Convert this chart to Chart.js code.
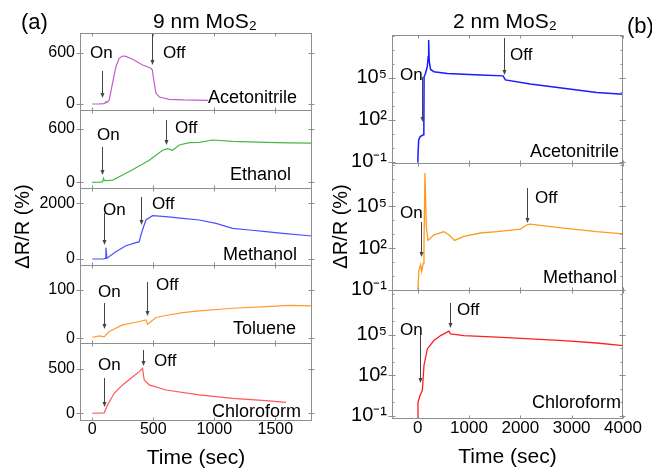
<!DOCTYPE html>
<html>
<head>
<meta charset="utf-8">
<script src="https://cdn.jsdelivr.net/npm/chart.js@4.4.1/dist/chart.umd.min.js"></script>
<style>
html, body { margin: 0; padding: 0; background: #fff; }
#wrap { position: relative; width: 652px; height: 474px; overflow: hidden; }
canvas { position: absolute; top: 0; }
#left { left: 0; }
#right { left: 322px; }
</style>
</head>
<body>
<div id="wrap">
  <canvas id="left" width="330" height="474"></canvas>
  <canvas id="right" width="330" height="474"></canvas>
</div>
<script>
// ---- data: 9 nm MoS2 (left column), time in sec, dR/R in %
const ticksXL = [0, 500, 1000, 1500];
const tAcnL = [0, 60, 95, 105, 112, 125, 140, 166, 194, 221, 248, 276, 331, 413, 481, 492, 500, 522, 550, 630, 750, 950];
const vAcnL = [0, 2, 5, 12, 27, 20, 50, 242, 436, 534, 561, 556, 523, 456, 418, 400, 319, 125, 82, 55, 47, 42];
const tEthL = [0, 60, 85, 92, 100, 139, 168, 221, 330, 467, 576, 617, 658, 713, 795, 877, 985, 1150, 1423, 1615, 1800];
const vEthL = [0, 2, 5, 45, 20, 22, 25, 63, 142, 248, 360, 379, 360, 420, 446, 450, 476, 461, 450, 443, 440];
const tMeoL = [0, 90, 105, 112, 120, 194, 276, 385, 399, 420, 440, 494, 604, 740, 877, 1014, 1150, 1287, 1423, 1560, 1800];
const vMeoL = [0, 0, 20, 407, 30, 262, 478, 622, 862, 1150, 1400, 1556, 1520, 1461, 1400, 1281, 1102, 1041, 982, 921, 826];
const tTolL = [0, 60, 98, 139, 249, 358, 440, 454, 522, 604, 740, 877, 1150, 1423, 1615, 1800];
const vTolL = [2, 5, 3, 14, 27.5, 33, 38, 29, 43, 47, 53, 56.5, 62, 65.5, 68, 67];
const tChlL = [0, 98, 126, 180, 249, 317, 385, 412, 426, 467, 604, 877, 1150, 1423, 1587];
const vChlL = [0, 5, 94, 226, 320, 395, 470, 508, 376, 320, 263, 207, 169, 142, 124];
const ticksAcnL = [0, 600];
const ticksEthL = [0, 600];
const ticksMeoL = [0, 2000];
const ticksTolL = [0, 100];
const ticksChlL = [0, 500];

// ---- data: 2 nm MoS2 (right column), log scale
const ticksXR = [0, 1000, 2000, 3000, 4000];
const ticksLogR = [0.1, 100, 1e5];
const labelsLogR = ['10⁻¹', '10²', '10⁵'];
const tAcnR = [0, 5, 20, 50, 110, 120, 125, 150, 188, 205, 214, 225, 252, 317, 576, 1223, 1663, 1709, 2194, 2841, 3489, 4006];
const vAcnR = [0.09, 0.24, 3.7, 6.5, 8.5, 10, 1.2e5, 2e5, 6.5e5, 3.2e6, 5.1e7, 1.6e6, 4e5, 2.8e5, 2.1e5, 1.6e5, 1.4e5, 7.2e4, 3.7e4, 1.8e4, 8.9e3, 6.8e3];
const tMeoR = [0, 6, 26, 58, 78, 110, 123, 142, 168, 201, 317, 511, 608, 718, 900, 1223, 1547, 2000, 2130, 2194, 2841, 3489, 4006];
const vMeoR = [0.09, 0.13, 2.7, 6.2, 2.0, 8.1, 130, 2.5e7, 3.5e3, 350, 890, 1.5e3, 890, 350, 680, 1.2e3, 1.5e3, 2.3e3, 4.7e3, 5.2e3, 2.7e3, 1.5e3, 1.05e3];
const tChlR = [0, 6, 45, 91, 123, 188, 317, 447, 608, 640, 900, 1547, 2194, 2841, 3489, 4006];
const vChlR = [0.07, 1.0, 3.2, 7.4, 540, 9.1e3, 3.8e4, 8.9e4, 1.9e5, 1.2e5, 8.9e4, 6.8e4, 5e4, 3.8e4, 2.5e4, 1.6e4];

const FONT = '"Liberation Sans", Arial, sans-serif';
Chart.defaults.font.family = FONT;
Chart.defaults.color = '#000';

function series(ts, vs, axis, color, width) {
  return {
    data: ts.map((t, i) => ({ x: t, y: vs[i] })),
    yAxisID: axis,
    borderColor: color,
    borderWidth: width,
    pointRadius: 0,
    tension: 0,
    fill: false
  };
}

function yLin(min, max, tickVals, extra) {
  return Object.assign({
    type: 'linear', position: 'left', stack: 'col', stackWeight: 1,
    min: min, max: max,
    grid: { display: false, drawTicks: false },
    border: { display: false },
    ticks: { font: { size: 16 }, color: '#000', padding: 5, autoSkip: false,
      callback: (v) => String(v) },
    afterBuildTicks: (s) => { s.ticks = tickVals.map(v => ({ value: v })); },
    afterFit: (s) => { s.width = 80; }
  }, extra || {});
}

function yLog(min, max, extra) {
  return Object.assign({
    type: 'logarithmic', position: 'left', stack: 'col', stackWeight: 1,
    min: min, max: max,
    grid: { display: false, drawTicks: false },
    border: { display: false },
    ticks: { font: { size: 20 }, color: '#000', padding: 5, autoSkip: false,
      callback: (v, i) => labelsLogR[i] },
    afterBuildTicks: (s) => { s.ticks = ticksLogR.map(v => ({ value: v })); },
    afterFit: (s) => { s.width = 70; }
  }, extra || {});
}

function xAxis(min, max, tickVals, h, titlePad, size) {
  return {
    type: 'linear', position: 'bottom', min: min, max: max,
    grid: { display: false, drawTicks: false },
    border: { display: false },
    ticks: { font: { size: size }, color: '#000', padding: 0, maxRotation: 0, autoSkip: false,
      callback: (v) => String(v) },
    afterBuildTicks: (s) => { s.ticks = tickVals.map(v => ({ value: v })); },
    afterFit: (s) => { s.height = h; },
    title: { display: true, text: 'Time (sec)', font: { size: 21 }, color: '#000', padding: { top: 0, bottom: titlePad } }
  };
}

// frames, tick marks, arrows and labels
const framePlugin = {
  id: 'frames',
  afterDatasetsDraw(chart, args, opts) {
    const ctx = chart.ctx, ca = chart.chartArea, xs = chart.scales.x;
    const l = Math.round(ca.left) + 0.5, r = Math.round(ca.right) - 0.5;
    ctx.save();
    ctx.strokeStyle = '#8f8f8f';
    ctx.lineWidth = 1;
    Object.values(chart.scales).forEach(s => {
      if (s.axis !== 'y') return;
      const top = Math.round(s.top) + 0.5, bot = Math.round(s.bottom) + 0.5;
      ctx.strokeRect(l, top, r - l, bot - top);
      ctx.beginPath();
      opts.xMarks.forEach(v => {
        const px = Math.round(xs.getPixelForValue(v)) + 0.5;
        ctx.moveTo(px, bot); ctx.lineTo(px, bot - 3);
        ctx.moveTo(px, top); ctx.lineTo(px, top + 3);
      });
      s.ticks.forEach(t => {
        const py = Math.round(s.getPixelForValue(t.value)) + 0.5;
        ctx.moveTo(l - 4, py); ctx.lineTo(l + 3, py);
        ctx.moveTo(r - 3, py); ctx.lineTo(r + 3, py);
      });
      if (s.type === 'logarithmic') {
        for (let e = Math.ceil(Math.log10(s.min)); e <= Math.floor(Math.log10(s.max)); e++) {
          const py = Math.round(s.getPixelForValue(Math.pow(10, e))) + 0.5;
          ctx.moveTo(l, py); ctx.lineTo(l + 2, py);
          ctx.moveTo(r - 2, py); ctx.lineTo(r, py);
        }
      }
      ctx.stroke();
    });

    ctx.strokeStyle = '#444';
    ctx.fillStyle = '#444';
    opts.arrows.forEach(a => {
      const px = Math.round(xs.getPixelForValue(a.t)) + 0.5;
      ctx.beginPath();
      ctx.moveTo(px, a.y1); ctx.lineTo(px, a.y2 - 3);
      ctx.stroke();
      ctx.beginPath();
      ctx.moveTo(px - 2, a.y2 - 5); ctx.lineTo(px + 2, a.y2 - 5); ctx.lineTo(px, a.y2);
      ctx.closePath();
      ctx.fill();
    });

    ctx.fillStyle = '#000';
    ctx.textBaseline = 'middle';
    opts.notes.forEach(n => {
      ctx.font = (n.size || 17) + 'px ' + FONT;
      ctx.textAlign = n.align || 'left';
      ctx.fillText(n.text, n.x, n.y);
    });
    ctx.restore();
  }
};

const notesL = [
  { text: '(a)', x: 21, y: 23, size: 22 },
  { text: '9 nm MoS₂', x: 205, y: 22, size: 21, align: 'center' },
  { text: 'On', x: 90, y: 53 }, { text: 'Off', x: 163, y: 53 },
  { text: 'Acetonitrile', x: 208, y: 98, size: 18 },
  { text: 'On', x: 97, y: 135 }, { text: 'Off', x: 175, y: 128 },
  { text: 'Ethanol', x: 230, y: 175, size: 18 },
  { text: 'On', x: 103, y: 210 }, { text: 'Off', x: 152, y: 204 },
  { text: 'Methanol', x: 223, y: 255, size: 18 },
  { text: 'On', x: 98, y: 292 }, { text: 'Off', x: 156, y: 285 },
  { text: 'Toluene', x: 233, y: 329, size: 18 },
  { text: 'On', x: 98, y: 365 }, { text: 'Off', x: 154, y: 361 },
  { text: 'Chloroform', x: 212, y: 412, size: 18 }
];
const arrowsL = [
  { t: 84, y1: 71, y2: 98 }, { t: 490, y1: 34, y2: 65 },
  { t: 82, y1: 147, y2: 175 }, { t: 604, y1: 120, y2: 145 },
  { t: 98, y1: 213, y2: 245 }, { t: 399, y1: 197, y2: 225 },
  { t: 98, y1: 303, y2: 329 }, { t: 448, y1: 282, y2: 316 },
  { t: 98, y1: 378, y2: 407 }, { t: 420, y1: 350, y2: 366 }
];
const notesR = [
  { text: '(b)', x: 305, y: 27, size: 22 },
  { text: '2 nm MoS₂', x: 183, y: 22, size: 21, align: 'center' },
  { text: 'On', x: 78, y: 75 }, { text: 'Off', x: 188, y: 55 },
  { text: 'Acetonitrile', x: 208, y: 152, size: 18 },
  { text: 'On', x: 78, y: 213 }, { text: 'Off', x: 213, y: 198 },
  { text: 'Methanol', x: 221, y: 278, size: 18 },
  { text: 'On', x: 78, y: 330 }, { text: 'Off', x: 135, y: 310 },
  { text: 'Chloroform', x: 210, y: 403, size: 18 }
];
const arrowsR = [
  { t: 78, y1: 77, y2: 122 }, { t: 1676, y1: 38, y2: 75 },
  { t: 58, y1: 222, y2: 257 }, { t: 2130, y1: 188, y2: 223 },
  { t: 45, y1: 335, y2: 383 }, { t: 621, y1: 303, y2: 328 }
];

const yTitleL = { display: true, text: 'ΔR/R (%)', font: { size: 20 }, color: '#000', padding: { top: 11, bottom: 0 } };
const yTitleR = { display: true, text: 'ΔR/R (%)', font: { size: 20 }, color: '#000', padding: { top: 7, bottom: 0 } };

new Chart(document.getElementById('left'), {
  type: 'line',
  data: {
    datasets: [
      series(tAcnL, vAcnL, 'y1', '#c45ccb', 1.2),
      series(tEthL, vEthL, 'y2', '#45b845', 1.2),
      series(tMeoL, vMeoL, 'y3', '#4d4dff', 1.2),
      series(tTolL, vTolL, 'y4', '#ff9a2e', 1.2),
      series(tChlL, vChlL, 'y5', '#ff5555', 1.2)
    ]
  },
  options: {
    responsive: false, animation: false, devicePixelRatio: 1,
    layout: { padding: { left: 0, right: 18, top: 33, bottom: 0 } },
    plugins: {
      legend: { display: false }, tooltip: { enabled: false }, title: { display: false },
      frames: { notes: notesL, arrows: arrowsL, xMarks: ticksXL }
    },
    scales: {
      x: xAxis(-100, 1800, ticksXL, 54, 3, 16),
      y5: yLin(-76, 798, ticksChlL),
      y4: yLin(-9, 151, ticksTolL),
      y3: yLin(-223, 2557, ticksMeoL, { title: yTitleL }),
      y2: yLin(-62, 809, ticksEthL),
      y1: yLin(-75, 830, ticksAcnL)
    }
  },
  plugins: [framePlugin]
});

new Chart(document.getElementById('right'), {
  type: 'line',
  data: {
    datasets: [
      series(tAcnR, vAcnR, 'y1', '#1a1aff', 1.5),
      series(tMeoR, vMeoR, 'y2', '#ff9a1a', 1.3),
      series(tChlR, vChlR, 'y3', '#ff1f1f', 1.3)
    ]
  },
  options: {
    responsive: false, animation: false, devicePixelRatio: 1,
    layout: { padding: { left: 0, right: 29, top: 35, bottom: 0 } },
    plugins: {
      legend: { display: false }, tooltip: { enabled: false }, title: { display: false },
      frames: { notes: notesR, arrows: arrowsR, xMarks: ticksXR }
    },
    scales: {
      x: xAxis(-500, 4000, ticksXR, 56, 4, 17),
      y3: yLog(0.069, 2.0e8),
      y2: yLog(0.089, 1.4e8, { title: yTitleR }),
      y1: yLog(0.087, 1.17e8)
    }
  },
  plugins: [framePlugin]
});
</script>
</body>
</html>
